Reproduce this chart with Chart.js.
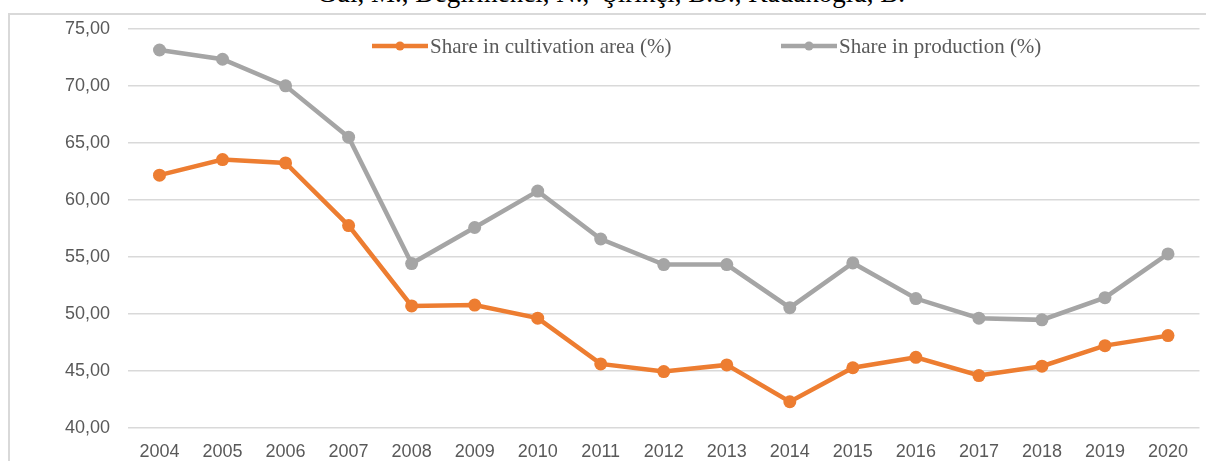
<!DOCTYPE html>
<html>
<head>
<meta charset="utf-8">
<script src="https://cdn.jsdelivr.net/npm/chart.js@4.4.1/dist/chart.umd.min.js"></script>
<style>
    html, body { margin: 0; padding: 0; background: #ffffff; overflow: hidden; }
    body { width: 1206px; height: 461px; position: relative; }
    #caption {
        position: absolute; left: 0; width: 1222px; top: -22px;
        text-align: center; white-space: pre;
        font-family: "Liberation Serif", "Times New Roman", serif;
        font-size: 27px; color: #000000; line-height: 30px;
    }
    #frame {
        position: absolute; left: 8px; top: 13px; width: 1300px; height: 500px;
        border-top: 2px solid #d9d9d9; border-left: 2px solid #d9d9d9;
    }
    #chartCanvas { position: absolute; left: 0; top: 0; }
</style>
</head>
<body>
<div id="caption">Gül, M., Değirmenci, N.,  Şirikçi, B.S., Kadakoğlu, B.</div>
<div id="frame"></div>
<canvas id="chartCanvas" width="1206" height="461"></canvas>
<script>
// Data
const years = ['2004', '2005', '2006', '2007', '2008', '2009', '2010', '2011', '2012',
    '2013', '2014', '2015', '2016', '2017', '2018', '2019', '2020'];
const shareArea = [62.17, 63.53, 63.24, 57.75, 50.70, 50.78, 49.63, 45.62, 44.95,
    45.53, 42.30, 45.28, 46.20, 44.60, 45.42, 47.22, 48.10];
const shareProduction = [73.14, 72.33, 70.00, 65.50, 54.42, 57.58, 60.77, 56.57, 54.33,
    54.33, 50.55, 54.47, 51.35, 49.63, 49.48, 51.43, 55.26];
const yTicks = [40, 45, 50, 55, 60, 65, 70, 75];

const orange = '#ED7D31';
const gray = '#A5A5A5';

// legend drawn inside the plot, like the original
const insideLegend = {
    id: 'insideLegend',
    afterDraw(chart) {
        const ctx = chart.ctx;
        const items = [
            { x: 372, ds: chart.data.datasets[0] },
            { x: 781, ds: chart.data.datasets[1] }
        ];
        const y = 46;
        ctx.save();
        items.forEach(function (it) {
            ctx.strokeStyle = it.ds.borderColor;
            ctx.lineWidth = 4.5;
            ctx.beginPath();
            ctx.moveTo(it.x, y);
            ctx.lineTo(it.x + 56, y);
            ctx.stroke();
            ctx.fillStyle = it.ds.borderColor;
            ctx.beginPath();
            ctx.arc(it.x + 28, y, 4.5, 0, Math.PI * 2);
            ctx.fill();
            ctx.fillStyle = '#595959';
            ctx.font = '21px "Liberation Serif", "Times New Roman", serif';
            ctx.textBaseline = 'middle';
            ctx.fillText(it.ds.label, it.x + 58, y + 1);
        });
        ctx.restore();
    }
};

const data = {
    labels: years,
    datasets: [{
        label: 'Share in cultivation area (%)',
        data: shareArea,
        borderColor: orange,
        backgroundColor: orange,
        borderWidth: 4.5,
        pointRadius: 6.5,
        pointBorderWidth: 0,
        pointBackgroundColor: orange,
        tension: 0
    }, {
        label: 'Share in production (%)',
        data: shareProduction,
        borderColor: gray,
        backgroundColor: gray,
        borderWidth: 4.5,
        pointRadius: 6.5,
        pointBorderWidth: 0,
        pointBackgroundColor: gray,
        tension: 0
    }]
};

const config = {
    type: 'line',
    data: data,
    options: {
        responsive: false,
        animation: false,
        layout: { padding: { left: 0, top: 26, right: 3, bottom: 0 } },
        plugins: {
            legend: { display: false },
            tooltip: { enabled: false }
        },
        scales: {
            x: {
                offset: true,
                grid: { display: false, drawTicks: false },
                border: { display: false },
                ticks: {
                    color: '#595959',
                    font: { family: '"Liberation Sans", Arial, sans-serif', size: 18 },
                    padding: 13,
                    maxRotation: 0,
                    autoSkip: false
                },
                afterFit(scale) { scale.height = 33; }
            },
            y: {
                min: yTicks[0],
                max: yTicks[yTicks.length - 1],
                afterBuildTicks(scale) {
                    scale.ticks = yTicks.map(function (v) { return { value: v }; });
                },
                grid: { color: '#d9d9d9', lineWidth: 1.5, drawTicks: false },
                border: { display: false },
                ticks: {
                    color: '#595959',
                    font: { family: '"Liberation Sans", Arial, sans-serif', size: 18 },
                    padding: 18,
                    callback: function (v) { return Number(v).toFixed(2).replace('.', ','); }
                },
                afterFit(scale) { scale.width = 128; }
            }
        }
    },
    plugins: [insideLegend]
};

// Render the chart
const ctx = document.getElementById('chartCanvas').getContext('2d');
const shareChart = new Chart(ctx, config);
</script>
</body>
</html>
